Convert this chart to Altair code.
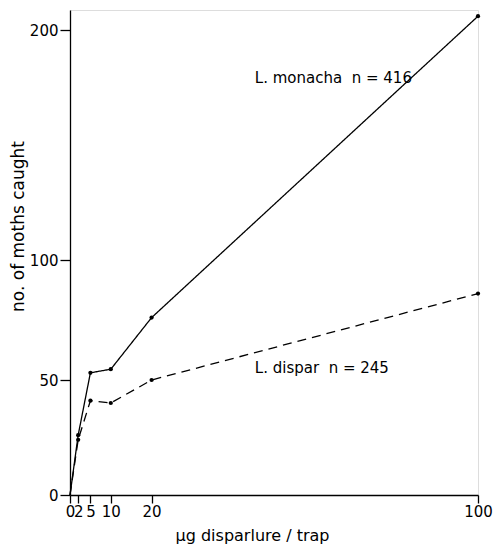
import altair as alt
import pandas as pd

doses = [0, 2, 5, 10, 20, 100]
monacha = [0, 26, 53, 54.5, 76, 206]
dispar = [0, 24, 41, 40, 50, 86]
species = ["L. monacha", "L. dispar"]
labels = ["L.\u00a0monacha\u00a0\u00a0n\u00a0=\u00a0416", "L.\u00a0dispar\u00a0\u00a0n\u00a0=\u00a0245"]
label_x = [45.3, 45.3]
label_y = [179, 55]
x_ticks = [0, 2, 5, 10, 20, 100]
y_ticks = [0, 50, 100, 200]

rows = []
for d, m, s in zip(doses, monacha, dispar):
    rows.append({"dose": d, "count": m, "species": species[0]})
    rows.append({"dose": d, "count": s, "species": species[1]})
df = pd.DataFrame(rows)
lab = pd.DataFrame({"x": label_x, "y": label_y, "text": labels})

FONT = "DejaVu Sans"
W = 408
xscale = alt.Scale(domain=[0, 100], range=[0, W], nice=False, zero=False)
yscale = alt.Scale(domain=[0, 50, 100, 200, 208.7], range=[485, 370, 250, 20, 0], nice=False, zero=False)

xaxis = alt.Axis(values=x_ticks, title="µg disparlure / trap", grid=False,
                 tickSize=8, labelPadding=1, labelFontSize=15, labelFont=FONT,
                 titleFont=FONT, titleFontSize=16, titleFontWeight="normal",
                 titleX=182, titleY=40, titleAnchor="middle", titleBaseline="middle",
                 domainColor="black", tickColor="black", labelColor="black", titleColor="black",
                 domainWidth=1.3, tickWidth=1.3, labelFlush=False, labelOverlap=False)
yaxis = alt.Axis(values=y_ticks, title="no. of moths caught", grid=False,
                 tickSize=10, labelPadding=2, labelFontSize=15, labelFont=FONT,
                 titleFont=FONT, titleFontSize=17, titleFontWeight="normal",
                 titleX=-52, titleY=216, titleAngle=-90, titleAlign="center", titleBaseline="middle",
                 domainColor="black", tickColor="black", labelColor="black", titleColor="black",
                 domainWidth=1.3, tickWidth=1.3, labelFlush=False, labelOverlap=False)

base = alt.Chart(df)
lines = base.mark_line(color="black", strokeWidth=1.3).encode(
    x=alt.X("dose:Q", scale=xscale, axis=xaxis),
    y=alt.Y("count:Q", scale=yscale, axis=yaxis),
    strokeDash=alt.StrokeDash("species:N", scale=alt.Scale(domain=species, range=[[1, 0], [9, 6]]), legend=None),
    detail="species:N",
)
points = base.transform_filter(alt.datum.dose > 0).mark_point(
    filled=True, color="black", size=18, opacity=1
).encode(
    x=alt.X("dose:Q", scale=xscale),
    y=alt.Y("count:Q", scale=yscale),
)
text = alt.Chart(lab).mark_text(align="left", baseline="middle", font=FONT, fontSize=15, color="black").encode(
    x=alt.X("x:Q", scale=xscale),
    y=alt.Y("y:Q", scale=yscale),
    text="text:N",
)

chart = alt.layer(lines, points, text).properties(
    width=W, height=485,
    autosize=alt.AutoSizeParams(type="none"),
    padding={"left": 62, "top": 2, "right": 16, "bottom": 49},
).configure_view(stroke=None).configure(background="white")

chart.save("out.html", embed_options={"renderer": "svg", "actions": False})
